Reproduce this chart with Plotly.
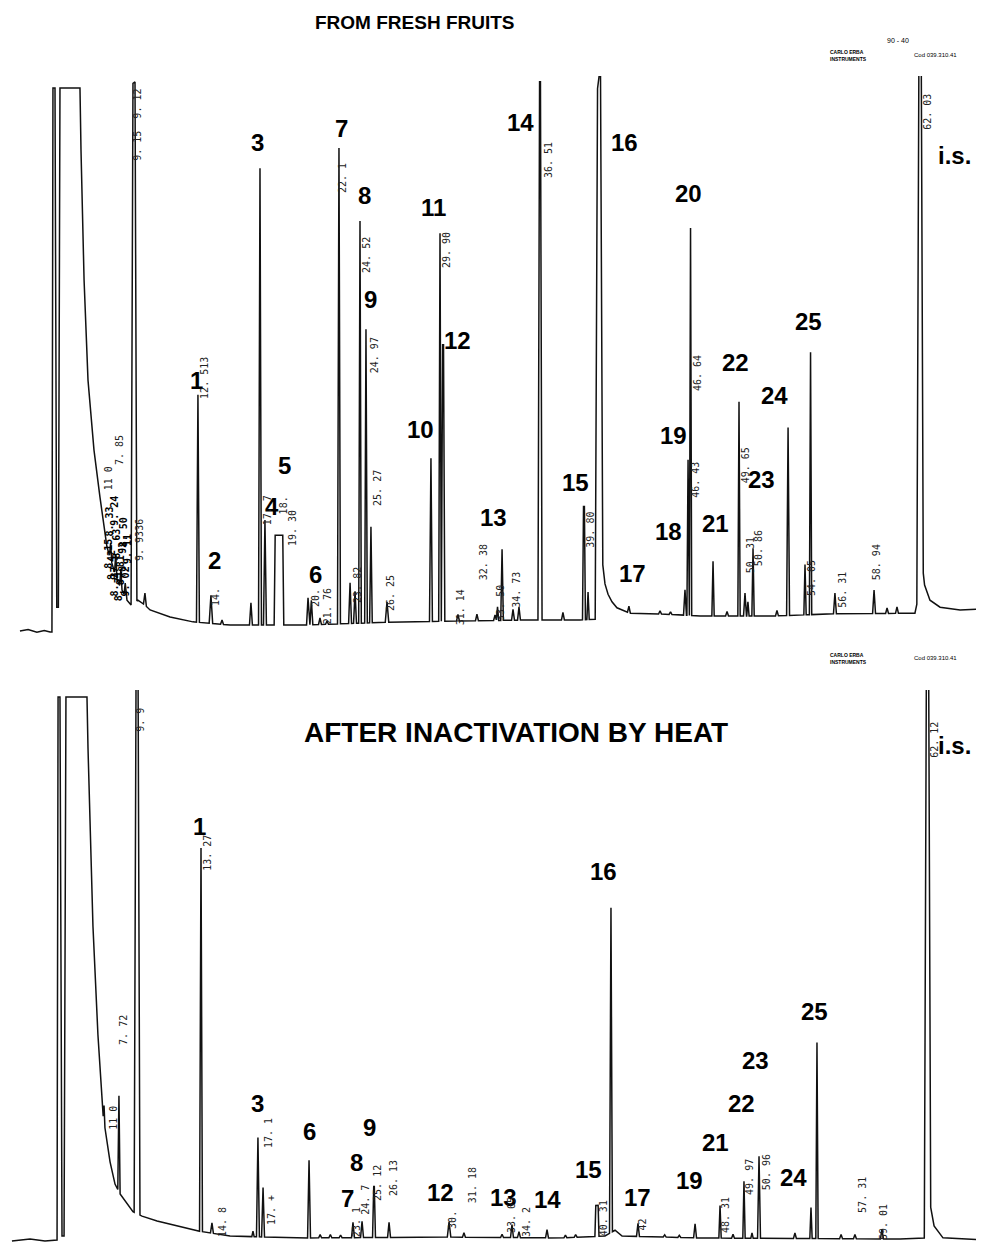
import numpy as np
import plotly.graph_objects as go

# ---------------- TOP chromatogram: FROM FRESH FRUITS (time in min, signal in % FS)
top_base_t = [0.34, 0.9, 1.5, 2.0, 2.40, 2.53, 2.60, 2.74, 2.86, 2.97, 3.08, 4.45, 4.52, 4.59, 4.73,
              5.00, 5.41, 5.82, 6.30, 6.99, 7.67, 7.95, 8.42, 8.90, 9.25, 10.62, 12.19, 14.73, 19.52,
              26.37, 35.27, 38.70, 39.80, 40.26, 40.41, 40.62, 40.89, 41.23, 42.12, 44.18, 46.92,
              52.19, 56.16, 61.64, 62.21, 62.30, 62.67, 63.36, 64.73, 66.37]
top_base_v = [-0.2, 0.1, -0.4, -0.1, -0.37, -0.37, 100.0, 100.0, 4.2, 4.2, 100.0, 100.0, 88.6, 79.3, 64.6,
              46.1, 33.2, 24.5, 15.3, 9.2, 5.5, 4.6, 5.5, 4.6, 3.7, 2.4, 1.5, 0.9, 0.9,
              1.5, 1.85, 1.85, 2.0, 12.0, 8.5, 6.6, 5.2, 4.1, 3.1, 2.95, 2.6,
              2.6, 3.0, 3.1, 10.5, 8.3, 5.5, 4.2, 3.7, 3.9]

top_peak_t = [8.15, 8.90, 6.55, 6.90, 7.25, 7.55, 12.53, 13.42, 14.18, 16.16, 16.78, 17.12, 18.08,
              20.07, 20.30, 20.89, 21.37, 22.19, 22.95, 23.29, 23.63, 24.04, 24.38, 25.48, 28.49,
              29.11, 29.32, 30.34, 31.64, 32.88, 33.05, 33.36, 34.11, 34.52, 35.96, 37.53, 38.97,
              39.25, 40.00, 42.05, 44.18, 44.90, 45.89, 46.10, 46.27, 47.81, 48.77, 49.59, 50.00,
              50.20, 50.55, 52.19, 52.95, 54.11, 54.49, 56.16, 58.84, 59.73, 60.41, 61.99]
top_peak_h = [96.0, 2.2, 3.0, 4.0, 3.5, 2.5, 42.0, 5.2, 0.8, 4.1, 84.3, 19.4, 16.6,
              5.0, 4.5, 1.2, 0.6, 87.8, 7.5, 5.9, 74.2, 54.2, 17.7, 3.8, 30.1,
              71.6, 51.0, 1.2, 1.2, 1.0, 2.5, 13.1, 2.0, 2.4, 99.3, 1.4, 20.9,
              5.1, 95.7, 1.2, 0.6, 0.5, 4.7, 28.7, 71.5, 10.1, 0.8, 39.5, 4.2,
              2.6, 12.5, 1.0, 34.7, 9.3, 48.4, 3.8, 4.3, 1.0, 1.2, 98.5]
top_peak_w = [0.20, 0.10, 0.08, 0.08, 0.08, 0.08, 0.10, 0.12, 0.10, 0.10, 0.10, 0.10, 0.33,
              0.10, 0.10, 0.10, 0.10, 0.10, 0.10, 0.10, 0.09, 0.09, 0.09, 0.12, 0.10,
              0.09, 0.12, 0.10, 0.10, 0.10, 0.08, 0.09, 0.10, 0.10, 0.14, 0.10, 0.10,
              0.08, 0.26, 0.10, 0.10, 0.10, 0.10, 0.08, 0.08, 0.08, 0.10, 0.08, 0.10,
              0.08, 0.08, 0.10, 0.10, 0.08, 0.08, 0.10, 0.10, 0.10, 0.10, 0.22]
top_peak_flat = [0.07, 0, 0, 0, 0, 0, 0, 0, 0, 0, 0, 0, 0.26,
                 0, 0, 0, 0, 0, 0, 0, 0, 0, 0, 0, 0,
                 0, 0.03, 0, 0, 0, 0, 0, 0, 0, 0.03, 0, 0.03,
                 0, 0.10, 0, 0, 0, 0, 0, 0, 0, 0, 0, 0,
                 0, 0, 0, 0, 0, 0, 0, 0, 0, 0, 0.08]

top_num_text = ["1", "2", "3", "4", "5", "6", "7", "8", "9", "10", "11", "12", "13", "14", "15", "16",
                "17", "18", "19", "20", "21", "22", "23", "24", "25", "i.s."]
top_num_t = [12.40, 13.63, 16.64, 17.60, 18.49, 20.55, 22.33, 23.97, 24.38, 27.74, 28.63, 30.34, 32.74,
             34.59, 38.36, 41.78, 42.26, 44.79, 45.07, 46.16, 47.95, 49.38, 51.16, 52.05, 54.32, 64.38]
top_num_v = [46.1, 12.9, 89.9, 22.7, 30.3, 10.3, 92.6, 80.1, 60.9, 36.9, 77.9, 53.5, 20.8,
             93.7, 27.3, 90.0, 10.5, 18.1, 35.8, 80.6, 19.6, 49.4, 27.7, 43.2, 57.0, 87.6]

top_rt_text = ["9. 15  9. 12", "7. 85", "11 0", "9. 9336", "12. 513", "14.", "17. 7", "18.", "19. 30",
               "20.", "21. 76", "22. 1", "23. 82", "24. 52", "24. 97", "25. 27", "26. 25", "29. 90",
               "31. 14", "32. 38", "33. 50", "34. 73", "36. 51", "39. 80", "46. 64", "46. 43",
               "49. 65", "50. 31", "50. 86", "54. 05", "56. 31", "58. 94", "62. 03"]
top_rt_t = [8.42, 7.12, 6.37, 8.49, 13.01, 13.77, 17.30, 18.36, 18.97,
            20.55, 21.37, 22.47, 23.42, 24.11, 24.59, 24.86, 25.68, 29.52,
            30.48, 32.05, 33.29, 34.38, 36.51, 39.45, 46.71, 46.64,
            50.00, 50.34, 50.89, 54.59, 56.71, 58.97, 62.53]
top_rt_v = [93.2, 33.2, 28.0, 16.6, 46.5, 6.1, 22.0, 23.0, 18.8,
            5.9, 4.4, 83.4, 8.3, 69.2, 50.7, 26.2, 6.8, 70.1,
            4.2, 12.5, 5.0, 7.4, 86.7, 18.5, 47.4, 27.7,
            30.4, 13.8, 15.1, 9.6, 7.4, 12.5, 95.6]

# crowded integrator marks printed over the solvent tail (dark cluster)
top_crowd_text = ["8. 15", "8. 42", "8. 63", "8. 81", "9. 02", "9. 24", "8. 50", "8. 33", "8. 71",
                  "8. 92", "9. 11", "8. 27"]
top_crowd_t = [6.35, 6.65, 6.95, 7.25, 7.55, 6.85, 7.45, 6.50, 7.10, 7.40, 7.70, 6.80]
top_crowd_v = [14.0, 12.0, 16.0, 11.0, 9.0, 22.0, 18.0, 20.0, 8.0, 13.5, 15.0, 9.0]

# ---------------- BOTTOM chromatogram: AFTER INACTIVATION BY HEAT
bot_base_t = [-0.21, 1.03, 2.05, 2.88, 2.95, 3.08, 3.22, 3.36, 3.49, 4.93, 5.00, 5.14, 5.34, 5.68,
              6.03, 6.51, 6.85, 7.19, 8.08, 8.70, 9.73, 12.19, 14.73, 19.52, 29.79, 37.33, 40.41,
              41.10, 41.58, 46.92, 60.62, 62.33, 62.72, 62.95, 63.56, 66.37]
bot_base_v = [-0.18, 0.18, -0.18, 0.0, 100.0, 100.0, 0.74, 0.74, 100.0, 100.0, 90.6, 75.3, 57.8, 37.8,
              23.0, 14.4, 10.3, 8.5, 5.2, 4.4, 3.5, 1.8, 0.74, 0.37, 0.55, 0.37, 0.74,
              1.8, 0.74, 0.37, 0.18, 0.37, 6.0, 2.6, 0.4, 0.0]

bot_peak_t = [6.10, 7.12, 8.36, 12.74, 13.49, 16.30, 16.64, 16.99, 20.14, 20.90, 21.60, 22.30,
              23.15, 23.77, 24.59, 25.62, 29.73, 30.75, 33.36, 34.04, 34.52, 36.44, 37.70, 38.40,
              39.86, 40.82, 42.67, 44.50, 45.50, 46.58, 48.29, 49.18, 49.93, 50.48, 50.96, 53.42,
              54.52, 54.93, 56.58, 57.53, 59.38, 62.50]
bot_peak_h = [3.0, 17.7, 98.0, 70.6, 1.9, 1.0, 18.3, 9.1, 14.3, 0.6, 0.6, 0.5,
              2.8, 3.0, 9.4, 2.8, 2.8, 0.8, 0.6, 2.4, 1.1, 1.5, 0.5, 0.5,
              5.7, 59.8, 2.4, 0.4, 0.4, 2.6, 6.0, 0.7, 10.5, 1.0, 15.1, 1.0,
              5.7, 36.1, 0.8, 0.8, 1.8, 101.0]
bot_peak_w = [0.06, 0.08, 0.20, 0.10, 0.10, 0.08, 0.10, 0.10, 0.10, 0.10, 0.10, 0.10,
              0.10, 0.10, 0.10, 0.10, 0.12, 0.10, 0.10, 0.10, 0.10, 0.10, 0.10, 0.10,
              0.14, 0.10, 0.10, 0.10, 0.10, 0.10, 0.08, 0.10, 0.08, 0.08, 0.10, 0.10,
              0.08, 0.08, 0.10, 0.10, 0.10, 0.22]
bot_peak_flat = [0, 0, 0.07, 0, 0, 0, 0, 0, 0, 0, 0, 0,
                 0, 0, 0.02, 0, 0, 0, 0, 0, 0, 0, 0, 0,
                 0.08, 0, 0, 0, 0, 0, 0, 0, 0, 0, 0, 0,
                 0, 0, 0, 0, 0, 0.08]

bot_num_text = ["1", "3", "6", "7", "8", "9", "12", "13", "14", "15", "16", "17", "19", "21", "22",
                "23", "24", "25", "i.s."]
bot_num_t = [12.67, 16.64, 20.14, 22.74, 23.42, 24.25, 29.11, 33.49, 36.44, 39.25, 40.34, 42.67,
             46.23, 48.01, 49.79, 50.75, 53.29, 54.73, 64.38]
bot_num_v = [76.2, 25.2, 19.9, 7.7, 14.2, 20.8, 8.8, 7.9, 7.4, 12.9, 67.8, 7.9,
             11.0, 18.0, 25.2, 33.1, 11.6, 42.0, 91.0]

bot_rt_text = ["9. 9", "7. 72", "11 0", "13. 27", "14. 8", "17. 1", "17. +", "23. 1", "24. 7",
               "25. 12", "26. 13", "30.", "31. 18", "33. 65", "34. 2", "40. 31", "42", "48. 31",
               "49. 97", "50. 96", "57. 31", "59. 01", "62. 12"]
bot_rt_t = [8.63, 7.47, 6.78, 13.22, 14.18, 17.33, 17.53, 23.36, 24.04,
            24.86, 25.89, 30.00, 31.30, 33.97, 35.00, 40.27, 43.00, 48.63,
            50.27, 51.44, 58.08, 59.45, 63.01]
bot_rt_v = [95.8, 38.7, 22.5, 71.3, 3.3, 19.7, 5.5, 3.3, 7.4,
            10.5, 11.4, 3.7, 10.1, 4.6, 3.3, 4.0, 2.8, 4.6,
            11.6, 12.5, 8.3, 3.3, 92.1]

TITLE_TOP = "FROM FRESH FRUITS"
TITLE_BOT = "AFTER INACTIVATION BY HEAT"


def build_trace(bt, bv, pt, ph, pw, pf):
    pts = set(bt)
    for t, w, f in zip(pt, pw, pf):
        pts.update([t - w, t - f, t + f, t + w])
    xs = np.array(sorted(p for p in pts if bt[0] <= p <= bt[-1]))
    ys = np.interp(xs, bt, bv)
    for t, h, w, f in zip(pt, ph, pw, pf):
        d = np.abs(xs - t)
        contrib = np.where(d <= f, h, np.where(d < w, h * (w - d) / max(w - f, 1e-9), 0.0))
        ys = ys + contrib
    return xs, ys


tx, ty = build_trace(top_base_t, top_base_v, top_peak_t, top_peak_h, top_peak_w, top_peak_flat)
bx, by = build_trace(bot_base_t, bot_base_v, bot_peak_t, bot_peak_h, bot_peak_w, bot_peak_flat)

fig = go.Figure()
line_style = dict(color="#111111", width=1.5)
fig.add_trace(go.Scatter(x=tx, y=ty, mode="lines", line=line_style, xaxis="x", yaxis="y",
                         hoverinfo="skip", showlegend=False))
fig.add_trace(go.Scatter(x=bx, y=by, mode="lines", line=line_style, xaxis="x2", yaxis="y2",
                         hoverinfo="skip", showlegend=False))

W, H = 984, 1247
OFF = 8  # page body margin compensation (px)
XR = [(0 + OFF - 15) / 14.6, (W + OFF - 15) / 14.6]


def py(p):
    """paper fraction for a page pixel row"""
    return (H - (p - OFF)) / H


def px(p):
    return (p - OFF) / W


axis_off = dict(visible=False, showgrid=False, zeroline=False, fixedrange=True)
fig.update_layout(
    width=W, height=H, margin=dict(l=0, r=0, t=0, b=0),
    paper_bgcolor="white", plot_bgcolor="white",
    xaxis=dict(domain=[0, 1], range=XR, anchor="y", **axis_off),
    yaxis=dict(domain=[py(640), py(76)], range=[-1.845, 102.21], anchor="x", **axis_off),
    xaxis2=dict(domain=[0, 1], range=XR, anchor="y2", **axis_off),
    yaxis2=dict(domain=[py(1247), py(690)], range=[-1.289, 101.29], anchor="x2", **axis_off),
)

ann = []
NUM_FONT = dict(family="Liberation Sans, Arial, sans-serif", size=24, color="#000000")
RT_FONT = dict(family="DejaVu Sans Mono, monospace", size=10, color="#222222")
CROWD_FONT = dict(family="DejaVu Sans Mono, monospace", size=10, color="#000000")
C = dict(showarrow=False, xanchor="center", yanchor="middle")

for txt, t, v in zip(top_num_text, top_num_t, top_num_v):
    ann.append(dict(x=t, y=v, xref="x", yref="y", text="<b>%s</b>" % txt, font=NUM_FONT, **C))
for txt, t, v in zip(top_rt_text, top_rt_t, top_rt_v):
    ann.append(dict(x=t, y=v, xref="x", yref="y", text=txt, textangle=-90, font=RT_FONT, **C))
for txt, t, v in zip(top_crowd_text, top_crowd_t, top_crowd_v):
    ann.append(dict(x=t, y=v, xref="x", yref="y", text="<b>%s</b>" % txt, textangle=-90, font=CROWD_FONT, **C))
for txt, t, v in zip(bot_num_text, bot_num_t, bot_num_v):
    ann.append(dict(x=t, y=v, xref="x2", yref="y2", text="<b>%s</b>" % txt, font=NUM_FONT, **C))
for txt, t, v in zip(bot_rt_text, bot_rt_t, bot_rt_v):
    ann.append(dict(x=t, y=v, xref="x2", yref="y2", text=txt, textangle=-90, font=RT_FONT, **C))

# titles and instrument header marks
ann.append(dict(x=px(415), y=py(22), xref="paper", yref="paper", text="<b>%s</b>" % TITLE_TOP,
                font=dict(family="Liberation Sans, Arial, sans-serif", size=19, color="#000"), **C))
ann.append(dict(x=px(516), y=py(733), xref="paper", yref="paper", text="<b>%s</b>" % TITLE_BOT,
                font=dict(family="Liberation Sans, Arial, sans-serif", size=28, color="#000"), **C))
small = dict(family="Liberation Sans, Arial, sans-serif", size=7, color="#000")
tiny = dict(family="Liberation Sans, Arial, sans-serif", size=5, color="#000")
ann.append(dict(x=px(898), y=py(40), xref="paper", yref="paper", text="90 - 40", font=small, **C))
for yy in (55, 658):
    ann.append(dict(x=px(848), y=py(yy), xref="paper", yref="paper", align="left",
                    text="<b>CARLO ERBA<br>INSTRUMENTS</b>", font=tiny, **C))
    ann.append(dict(x=px(935), y=py(yy), xref="paper", yref="paper",
                    text="Cod 039.310.41", font=dict(small, size=6), **C))

fig.update_layout(annotations=ann)
fig.write_html("out.html")
